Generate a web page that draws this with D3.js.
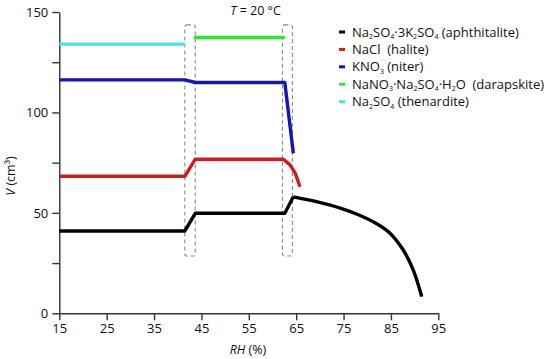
<!DOCTYPE html>
<html lang="en">
<head>
    <meta charset="UTF-8">
    <title>Salt volumes vs RH</title>
    <script src="https://d3js.org/d3.v7.min.js"></script>
    <style>
        body { margin: 0; background: #fff; font-family: "Open Sans", sans-serif; }
        .axis text { font: 13px "Open Sans", sans-serif; fill: #111; }
        .axis path, .axis line { stroke: #333; stroke-width: 1.4px; }
        .lbl { font: 12.5px "Open Sans", sans-serif; fill: #111; }
        .leg { font: 13px "Open Sans", sans-serif; fill: #111; white-space: pre; }
    </style>
</head>
<body>
<svg id="chart" width="550" height="359"></svg>
<script>
    // data: [RH %, V cm3]
    var aphthitalite = [[15, 41], [41.5, 41], [43.7, 49.8], [62.6, 49.8], [64.4, 58], [69.3, 55.6],
        [74.3, 52.4], [78, 49.2], [82, 44.6], [84.8, 39.9], [87.6, 31.5], [89.7, 21.6], [91.5, 8.3]];
    var halite = [[15, 68.2], [41.5, 68.2], [43.7, 76.7], [62.3, 76.7], [63.7, 73.9], [64.8, 69.8], [65.8, 63]];
    var niter = [[15, 116.2], [41.5, 116.2], [43.7, 114.9], [62.6, 114.9], [64.4, 79.7]];
    var darapskite = [[43.4, 137.3], [62.6, 137.3]];
    var thenardite = [[15, 134], [41.5, 134]];

    var xTicks = [15, 25, 35, 45, 55, 65, 75, 85, 95];
    var yTicks = [0, 25, 50, 75, 100, 125, 150];
    var yLabels = [0, 50, 100, 150];
    // transition boxes: [RH from, RH to, V low, V high]
    var boxes = [[41.5, 43.7, 28.5, 143.6], [62.1, 64.2, 28.5, 143.6]];

    var series = [
        {data: aphthitalite, color: "#000000", smoothFrom: 4, name: [["Na"], ["2", "sub"], ["SO"], ["4", "sub"], ["·3K"], ["2", "sub"], ["SO"], ["4", "sub"], [" (aphthitalite)"]]},
        {data: halite, color: "#d01c1f", name: [["NaCl  (halite)"]]},
        {data: niter, color: "#1515b0", name: [["KNO"], ["3", "sub"], [" (niter)"]]},
        {data: darapskite, color: "#3ede3a", name: [["NaNO"], ["3", "sub"], ["·Na"], ["2", "sub"], ["SO"], ["4", "sub"], ["·H"], ["2", "sub"], ["O  (darapskite)"]]},
        {data: thenardite, color: "#45e5e5", name: [["Na"], ["2", "sub"], ["SO"], ["4", "sub"], [" (thenardite)"]]}
    ];

    var svg = d3.select("#chart");
    var x = d3.scaleLinear().domain([15, 95]).range([59.3, 438.3]);
    var y = d3.scaleLinear().domain([0, 150]).range([313.3, 12]);

    // axes
    svg.append("g").attr("class", "axis")
        .attr("transform", "translate(0," + y(0) + ")")
        .call(d3.axisBottom(x).tickValues(xTicks).tickSize(7).tickSizeOuter(0).tickPadding(3));
    svg.append("g").attr("class", "axis")
        .attr("transform", "translate(" + x(15) + ",0)")
        .call(d3.axisLeft(y).tickValues(yTicks).tickSize(7).tickSizeOuter(0).tickPadding(4)
            .tickFormat(function(d) { return yLabels.indexOf(d) >= 0 ? d : ""; }));

    // dashed boxes
    svg.selectAll(".box").data(boxes).enter().append("rect")
        .attr("x", function(d) { return x(d[0]); })
        .attr("y", function(d) { return y(d[3]); })
        .attr("width", function(d) { return x(d[1]) - x(d[0]); })
        .attr("height", function(d) { return y(d[2]) - y(d[3]); })
        .attr("rx", 2)
        .attr("fill", "none")
        .attr("stroke", "#8a8a8a")
        .attr("stroke-width", 1.1)
        .attr("stroke-dasharray", "4,3");

    var line = d3.line()
        .x(function(d) { return x(d[0]); })
        .y(function(d) { return y(d[1]); });
    var smooth = d3.line()
        .x(function(d) { return x(d[0]); })
        .y(function(d) { return y(d[1]); })
        .curve(d3.curveCatmullRom.alpha(0.5));

    // straight steps, smooth tail for the aphthitalite curve
    series.slice().reverse().forEach(function(s) {
        var g = svg.append("g").attr("fill", "none").attr("stroke", s.color)
            .attr("stroke-width", 3.4).attr("stroke-linejoin", "round");
        if (s.smoothFrom) {
            g.append("path").attr("d", line(s.data.slice(0, s.smoothFrom + 1)));
            g.append("path").attr("d", smooth(s.data.slice(s.smoothFrom)));
        } else {
            g.append("path").attr("d", line(s.data));
        }
    });

    // title
    var title = svg.append("text").attr("class", "lbl")
        .attr("x", 255.5).attr("y", 15).attr("text-anchor", "middle");
    title.append("tspan").attr("font-style", "italic").text("T");
    title.append("tspan").text(" = 20 °C");

    // axis labels
    var xl = svg.append("text").attr("class", "lbl")
        .attr("x", 248).attr("y", 354).attr("text-anchor", "middle");
    xl.append("tspan").attr("font-style", "italic").text("RH");
    xl.append("tspan").text(" (%)");

    var yl = svg.append("text").attr("class", "lbl")
        .attr("transform", "translate(15,176) rotate(-90)")
        .attr("text-anchor", "middle");
    yl.append("tspan").attr("font-style", "italic").text("V");
    yl.append("tspan").text(" (cm³)");

    // legend
    var leg = svg.append("g").attr("transform", "translate(339,32)");
    series.forEach(function(s, i) {
        var row = leg.append("g").attr("transform", "translate(0," + (i * 17.4) + ")");
        row.append("line").attr("x1", 0).attr("x2", 6).attr("y1", 0).attr("y2", 0)
            .attr("stroke", s.color).attr("stroke-width", 3);
        var t = row.append("text").attr("class", "leg").attr("x", 13).attr("y", 4.5);
        var wasSub = false;
        s.name.forEach(function(p) {
            var ts = t.append("tspan").text(p[0]);
            if (p[1] === "sub") {
                ts.attr("dy", 2.5).attr("font-size", "7px");
                wasSub = true;
            } else {
                if (wasSub) ts.attr("dy", -2.5);
                wasSub = false;
            }
        });
    });
</script>
</body>
</html>
